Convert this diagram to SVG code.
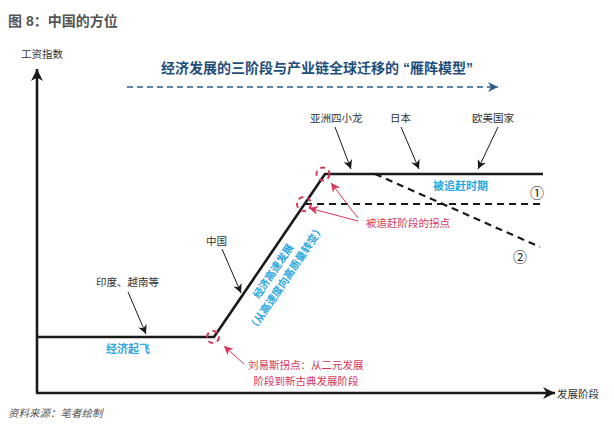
<svg xmlns="http://www.w3.org/2000/svg" width="614" height="428" viewBox="0 0 614 428">
<style>
text{font-family:"Liberation Sans","Noto Sans CJK SC",sans-serif;}
.lbl{font-size:10.5px;fill:#333;}
.cy{font-size:10.5px;fill:#2aa7dd;font-weight:bold;}
.rd{font-size:10.5px;fill:#d6375a;}
.main{stroke:#1a1a1a;stroke-width:2.6;fill:none;}
.dash{stroke:#1a1a1a;stroke-width:2.2;fill:none;stroke-dasharray:7 5;}
.ptr{stroke:#1a1a1a;stroke-width:1;fill:none;marker-end:url(#ah);}
.rptr{stroke:#d6375a;stroke-width:1;fill:none;marker-end:url(#rah);}
.rc{stroke:#d6375a;stroke-width:2;fill:none;stroke-dasharray:5 4;}
</style>
<defs>
<marker id="ah" viewBox="0 0 10 10" refX="10" refY="5" markerWidth="9" markerHeight="9" markerUnits="userSpaceOnUse" orient="auto"><path d="M0,0 L10,5 L0,10 L3,5 Z" fill="#1a1a1a"/></marker>
<marker id="rah" viewBox="0 0 10 10" refX="10" refY="5" markerWidth="9" markerHeight="9" markerUnits="userSpaceOnUse" orient="auto"><path d="M0,0 L10,5 L0,10 L3,5 Z" fill="#d6375a"/></marker>
<marker id="axh" viewBox="0 0 10 10" refX="10" refY="5" markerWidth="14" markerHeight="12" markerUnits="userSpaceOnUse" orient="auto"><path d="M0,0 L10,5 L0,10 L3,5 Z" fill="#1a1a1a"/></marker>
<marker id="bh" viewBox="0 0 10 10" refX="10" refY="5" markerWidth="12" markerHeight="10" markerUnits="userSpaceOnUse" orient="auto"><path d="M0,0 L10,5 L0,10 L3,5 Z" fill="#2a5d8a"/></marker>
</defs>
<rect width="614" height="428" fill="#fff"/>
<text x="8" y="26" style="font-size:14px;font-weight:bold;fill:#555;">图 8：中国的方位</text>
<text x="8" y="417" style="font-size:10.5px;fill:#555;font-style:italic;">资料来源：笔者绘制</text>

<g id="axes">
<line x1="37" y1="393" x2="37" y2="69" stroke="#1a1a1a" stroke-width="2.6" marker-end="url(#axh)"/>
<line x1="36" y1="393" x2="555" y2="393" stroke="#1a1a1a" stroke-width="2.6" marker-end="url(#axh)"/>
<text x="21" y="58" class="lbl">工资指数</text>
<text x="557" y="398" class="lbl">发展阶段</text>
</g>

<g id="title">
<text x="317" y="73" text-anchor="middle" style="font-size:14px;font-weight:bold;fill:#1f4e7a;">经济发展的三阶段与产业链全球迁移的 “雁阵模型”</text>
<line x1="127" y1="87" x2="498" y2="87" stroke="#2a5d8a" stroke-width="1.6" stroke-dasharray="6 4" marker-end="url(#bh)"/>
</g>

<g id="connectors">
<polyline class="main" points="37,337 214,337 325,174 543,174"/>
<line class="dash" x1="305" y1="204" x2="543" y2="204"/>
<line class="dash" x1="375" y1="174" x2="540" y2="247"/>
<line class="ptr" x1="335" y1="127" x2="351" y2="169"/>
<line class="ptr" x1="401" y1="127" x2="419" y2="169"/>
<line class="ptr" x1="498" y1="127" x2="478" y2="169"/>
<line class="ptr" x1="222" y1="249" x2="241" y2="293"/>
<line class="ptr" x1="128" y1="292" x2="146" y2="334"/>
<line class="rptr" x1="358" y1="218" x2="331" y2="183"/>
<line class="rptr" x1="358" y1="221" x2="309" y2="208"/>
<line class="rptr" x1="244" y1="364" x2="224" y2="346"/>
</g>

<g id="turning-points">
<circle class="rc" cx="213" cy="337" r="6"/>
<circle class="rc" cx="304" cy="204" r="7"/>
<circle class="rc" cx="323" cy="174" r="6.5"/>
</g>

<g id="node-asia">
<text x="310" y="122" class="lbl">亚洲四小龙</text>
</g>
<g id="node-japan">
<text x="390" y="122" class="lbl">日本</text>
</g>
<g id="node-west">
<text x="472" y="122" class="lbl">欧美国家</text>
</g>
<g id="node-china">
<text x="206" y="245" class="lbl">中国</text>
</g>
<g id="node-india">
<text x="96" y="286" class="lbl">印度、越南等</text>
</g>
<g id="stage-labels">
<text x="433" y="190" class="cy" style="font-size:11px;">被追赶时期</text>
<text x="106" y="353" class="cy" style="font-size:11px;">经济起飞</text>
<text x="273" y="271" class="cy" text-anchor="middle" dominant-baseline="central" transform="rotate(-56 273 271)">经济高速发展</text>
<text x="286" y="278" class="cy" text-anchor="middle" dominant-baseline="central" transform="rotate(-56 286 278)">（从高速度向高质量转变）</text>
<text x="530" y="198" style="font-size:14px;fill:#222;font-family:'Liberation Serif','Noto Sans CJK SC',serif;">①</text>
<text x="513" y="262" style="font-size:14px;fill:#222;font-family:'Liberation Serif','Noto Sans CJK SC',serif;">②</text>
</g>
<g id="notes">
<text x="366" y="227" class="rd">被追赶阶段的拐点</text>
<text x="248" y="369" class="rd">刘易斯拐点：从二元发展</text>
<text x="306" y="385" class="rd" text-anchor="middle">阶段到新古典发展阶段</text>
</g>
</svg>
